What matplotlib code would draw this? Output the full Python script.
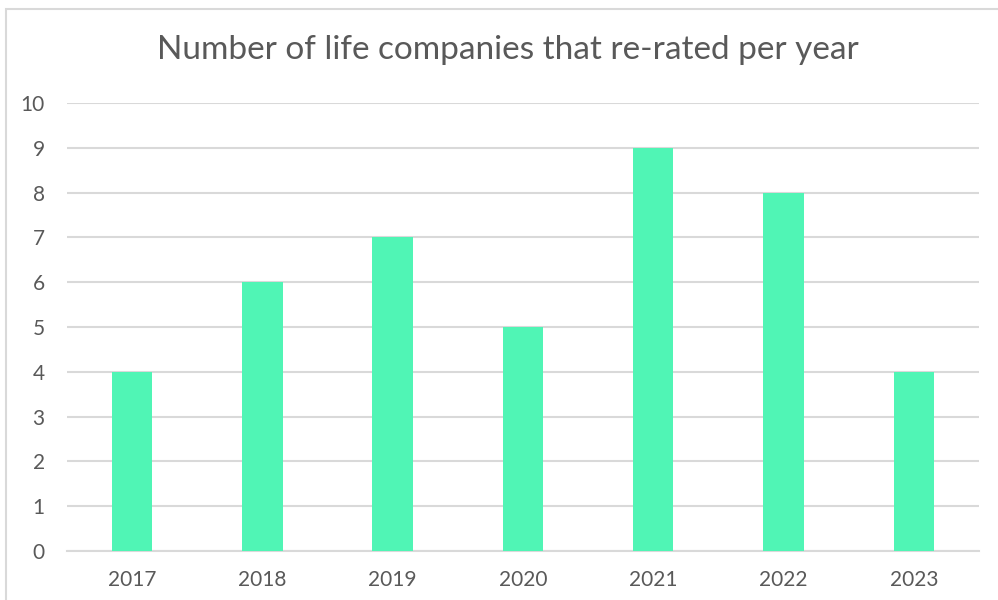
import matplotlib
matplotlib.use('Agg')
import matplotlib.pyplot as plt
from matplotlib.patches import Rectangle

# Datos
years = ['2017', '2018', '2019', '2020', '2021', '2022', '2023']
rerated = [4, 6, 7, 5, 9, 8, 4]
y_ticks = list(range(0, 11))

BAR_COLOR = '#50F5B5'
TEXT_COLOR = '#595959'
GRID_COLOR = '#D9D9D9'

plt.rcParams['font.family'] = ['Lato', 'DejaVu Sans']

fig = plt.figure(figsize=(9.98, 6.0), dpi=100)
ax = fig.add_axes([0.0671, 0.0817, 0.9138, 0.7467])

x = range(len(years))
ax.bar(x, rerated, width=0.31, color=BAR_COLOR, zorder=3)

ax.set_xlim(-0.5, len(years) - 0.5)
ax.set_ylim(0, 10)
ax.set_yticks(y_ticks)
ax.set_xticks(list(x))
ax.set_xticklabels(years)

ax.yaxis.grid(True, color=GRID_COLOR, linewidth=1.5, zorder=0)
for s in ['top', 'right', 'left']:
    ax.spines[s].set_visible(False)
ax.spines['bottom'].set_color(GRID_COLOR)
ax.spines['bottom'].set_linewidth(1.5)
ax.tick_params(axis='both', length=0, labelsize=15, labelcolor=TEXT_COLOR)
ax.tick_params(axis='y', pad=16)
ax.tick_params(axis='x', pad=14)

fig.text(0.509, 0.916, 'Number of life companies that re-rated per year',
         ha='center', va='center', fontsize=24, color=TEXT_COLOR)

# marco del gráfico
fig.patches.append(Rectangle((6 / 998, -0.1), 1.1, (600 - 9) / 600 + 0.1,
                             transform=fig.transFigure, fill=False,
                             edgecolor=GRID_COLOR, linewidth=1.5))

fig.savefig('out.png', dpi=100)
